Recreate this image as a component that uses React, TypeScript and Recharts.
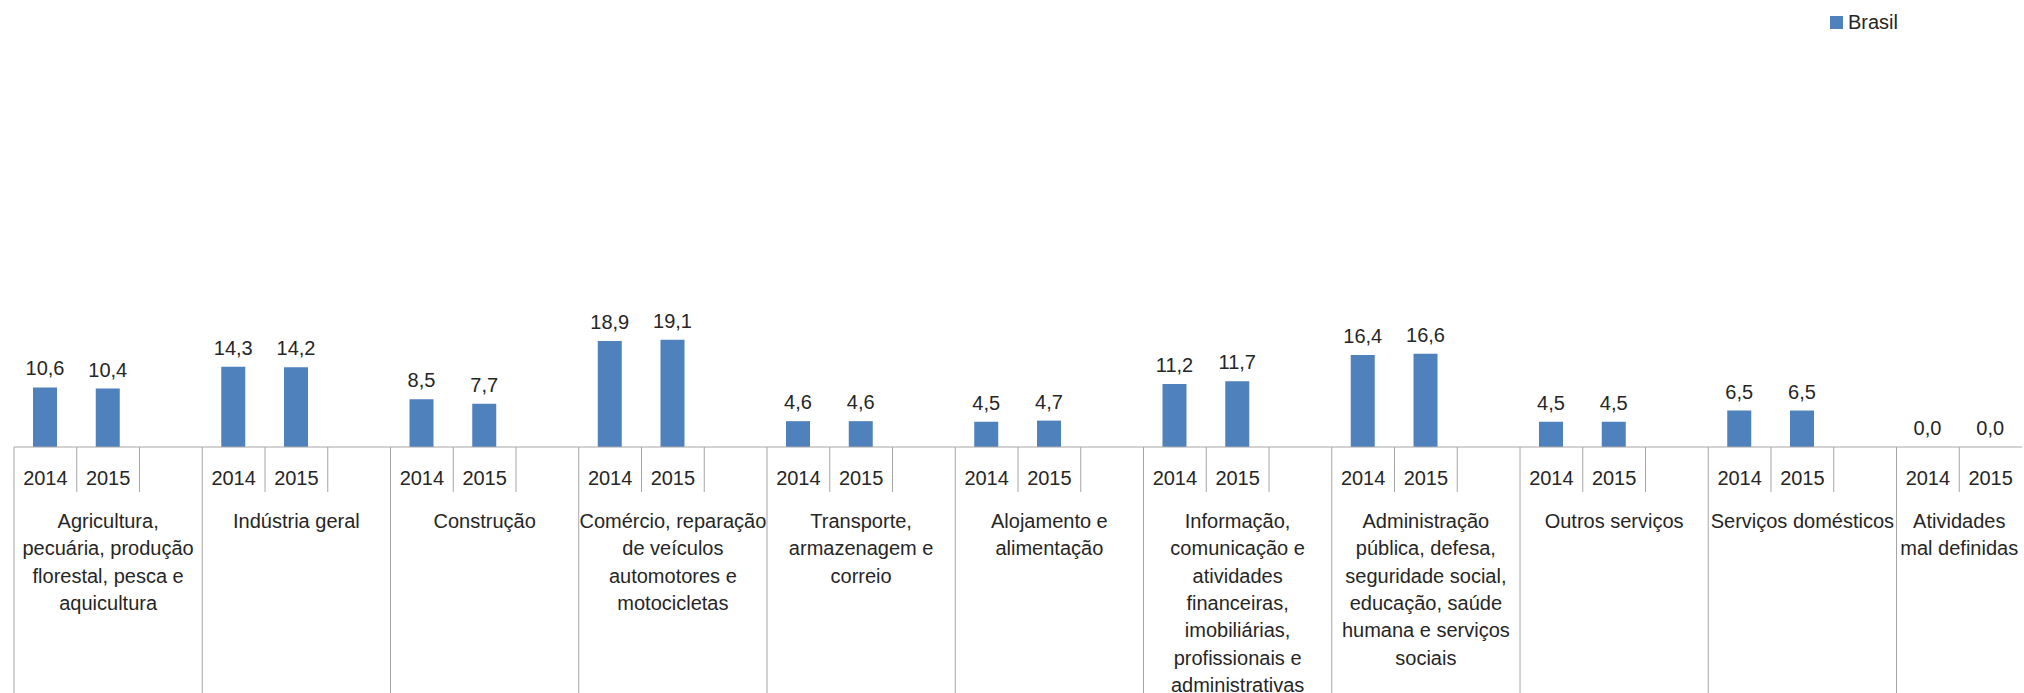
import React from 'react';
import { BarChart, Bar, XAxis, YAxis, LabelList, Legend } from 'recharts';

// ---- data ----
const groupLabels: string[][] = [
  ['Agricultura,', 'pecuária, produção', 'florestal, pesca e', 'aquicultura'],
  ['Indústria geral'],
  ['Construção'],
  ['Comércio, reparação', 'de veículos', 'automotores e', 'motocicletas'],
  ['Transporte,', 'armazenagem e', 'correio'],
  ['Alojamento e', 'alimentação'],
  ['Informação,', 'comunicação e', 'atividades', 'financeiras,', 'imobiliárias,', 'profissionais e', 'administrativas'],
  ['Administração', 'pública, defesa,', 'seguridade social,', 'educação, saúde', 'humana e serviços', 'sociais'],
  ['Outros serviços'],
  ['Serviços domésticos'],
  ['Atividades', 'mal definidas'],
];
const years: string[] = ['2014', '2015', ''];
const values2014: number[] = [10.6, 14.3, 8.5, 18.9, 4.6, 4.5, 11.2, 16.4, 4.5, 6.5, 0.0];
const values2015: number[] = [10.4, 14.2, 7.7, 19.1, 4.6, 4.7, 11.7, 16.6, 4.5, 6.5, 0.0];
const seriesName = 'Brasil';

type Row = { key: string; group: number; slot: number; year: string; value: number | null };
const rows: Row[] = [];
groupLabels.forEach((_, g) => {
  const isLast = g === groupLabels.length - 1;
  const slots = isLast ? 2 : 3;
  for (let s = 0; s < slots; s++) {
    rows.push({
      key: `${g}-${s}`,
      group: g,
      slot: s,
      year: years[s],
      value: s === 0 ? values2014[g] : s === 1 ? values2015[g] : null,
    });
  }
});

// ---- layout ----
const CHART_W = 2024;
const CHART_H = 693;
const M_LEFT = 14;
const M_RIGHT = 2;
const M_TOP = 54;
const XAXIS_H = 246;
const PLOT_BOTTOM = CHART_H - XAXIS_H;
const BAND_W = (CHART_W - M_LEFT - M_RIGHT) / rows.length;
const FONT = '"Liberation Sans", Arial, sans-serif';
const TEXT = '#262626';
const GRID = '#A6A6A6';

const groupSize = (g: number) => rows.filter((r) => r.group === g).length;

const CatTick = (props: any) => {
  const { x, payload } = props;
  const [gs, ss] = String(payload.value).split('-');
  const g = Number(gs);
  const s = Number(ss);
  const size = groupSize(g);
  const left = x - BAND_W / 2;
  const right = x + BAND_W / 2;
  const els: React.ReactNode[] = [];
  if (s === 0) {
    els.push(<line key="gb" x1={left} x2={left} y1={PLOT_BOTTOM} y2={CHART_H} stroke={GRID} strokeWidth={1} />);
    const cx = left + (size * BAND_W) / 2;
    groupLabels[g].forEach((ln, i) => {
      els.push(
        <text key={'l' + i} x={cx} y={PLOT_BOTTOM + 81 + i * 27.3} textAnchor="middle" fontSize={20} fontFamily={FONT} fill={TEXT}>
          {ln}
        </text>
      );
    });
  }
  if (s < size - 1 || (s === 1 && size === 3)) {
    els.push(<line key="sd" x1={right} x2={right} y1={PLOT_BOTTOM} y2={PLOT_BOTTOM + 45} stroke={GRID} strokeWidth={1} />);
  }
  if (years[s]) {
    els.push(
      <text key="yr" x={x} y={PLOT_BOTTOM + 38} textAnchor="middle" fontSize={20} fontFamily={FONT} fill={TEXT}>
        {years[s]}
      </text>
    );
  }
  return <g>{els}</g>;
};

const LegendContent = () => (
  <div style={{ display: 'flex', alignItems: 'center', fontFamily: FONT, fontSize: 20, color: TEXT }}>
    <span style={{ display: 'inline-block', width: 13, height: 13, background: '#4F81BD', marginRight: 5 }} />
    <span>{seriesName}</span>
  </div>
);

export default function App() {
  return (
    <div style={{ position: 'absolute', left: 0, top: 0, width: CHART_W, height: CHART_H, overflow: 'hidden', background: '#fff' }}>
      <BarChart width={CHART_W} height={CHART_H} data={rows} margin={{ top: M_TOP, right: M_RIGHT, left: M_LEFT, bottom: 0 }}>
        <XAxis
          dataKey="key"
          height={XAXIS_H}
          interval={0}
          tickLine={false}
          axisLine={{ stroke: GRID, strokeWidth: 1 }}
          tick={<CatTick />}
        />
        <YAxis hide domain={[0, 70]} />
        <Legend
          layout="vertical"
          align="center"
          verticalAlign="middle"
          content={<LegendContent />}
          wrapperStyle={{ position: 'absolute', left: 1830, top: 11, width: 'auto', height: 'auto' }}
        />
        <Bar dataKey="value" name={seriesName} fill="#4F81BD" barSize={24} minPointSize={0.01} isAnimationActive={false}>
          <LabelList
            dataKey="value"
            position="top"
            offset={12}
            fontSize={20}
            fontFamily={FONT}
            fill={TEXT}
            formatter={(v: any) => (v === null || v === undefined ? '' : Number(v).toFixed(1).replace('.', ','))}
          />
        </Bar>
      </BarChart>
    </div>
  );
}
